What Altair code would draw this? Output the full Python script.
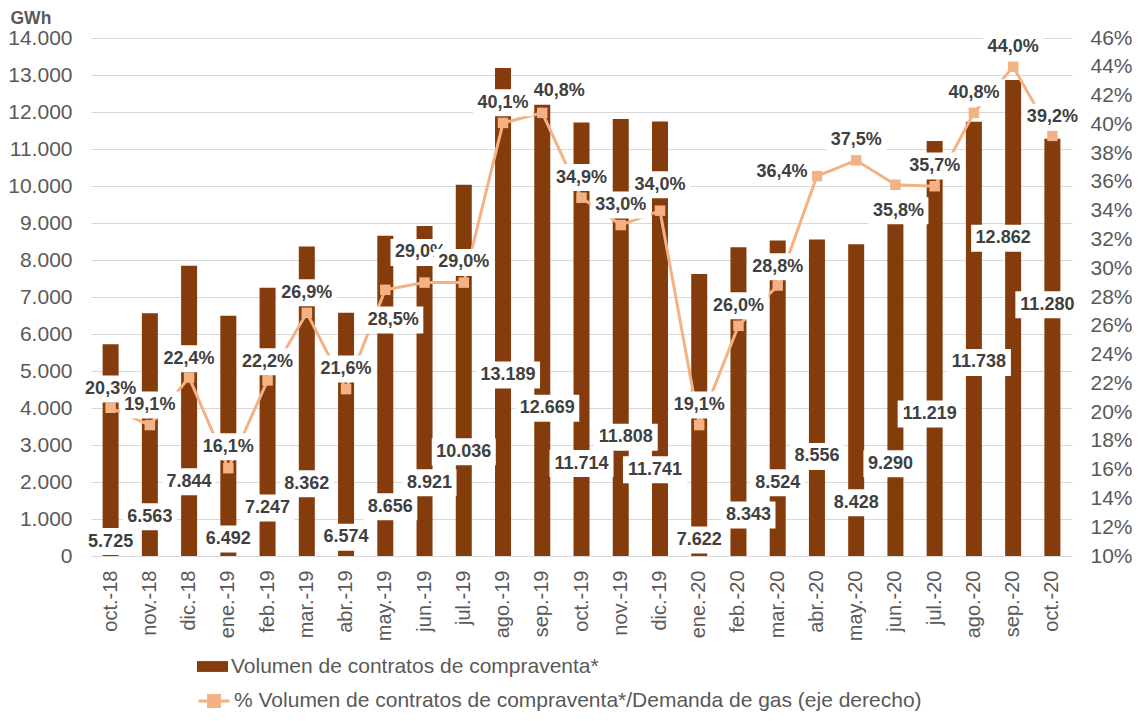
import altair as alt
import pandas as pd

FONT = "Liberation Sans"
BROWN = "#843C0C"
ORANGE = "#F4B183"
GREY = "#595959"
DARK = "#404040"

months = ["oct.-18", "nov.-18", "dic.-18", "ene.-19", "feb.-19", "mar.-19", "abr.-19",
          "may.-19", "jun.-19", "jul.-19", "ago.-19", "sep.-19", "oct.-19", "nov.-19",
          "dic.-19", "ene.-20", "feb.-20", "mar.-20", "abr.-20", "may.-20", "jun.-20",
          "jul.-20", "ago.-20", "sep.-20", "oct.-20"]

volume = [5725, 6563, 7844, 6492, 7247, 8362, 6574, 8656, 8921, 10036, 13189, 12669,
          11714, 11808, 11741, 7622, 8343, 8524, 8556, 8428, 9290, 11219, 11738, 12862, 11280]

pct = [20.3, 19.1, 22.4, 16.1, 22.2, 26.9, 21.6, 28.5, 29.0, 29.0, 40.1, 40.8, 34.9,
       33.0, 34.0, 19.1, 26.0, 28.8, 36.4, 37.5, 35.8, 35.7, 40.8, 44.0, 39.2]

# where each data label sits (in axis units)
vol_label_at = [390, 1060, 2010, 460, 1300, 1950, 510, 1330, 1980, 2820, 4890, 3990,
                2500, 3210, 2330, 430, 1110, 1980, 2690, 1440, 2490, 3840, 5230, 8590, 6790]
vol_label_dx = [0, 0, 0, 0, 0, 0, 0, 5, 5, 0, 5, 5, 0, 5, -5, 0, 10, 0, 0, 0, -5, -5, 5, -10, -5]

pct_label_at = [21.6, 20.5, 23.7, 17.6, 23.5, 28.3, 23.0, 26.4, 31.1, 30.4, 41.5, 42.3,
                36.3, 34.4, 35.8, 20.5, 27.4, 30.1, 36.7, 38.9, 34.0, 37.1, 42.2, 45.4, 40.5]
pct_label_dx = [0, 0, 0, 0, 0, 0, 0, 8, -4, 0, 0, 17, 0, 0, 0, 0, 0, 0, -35, 0, 3, 0, 0, 0, 0]

LEG1 = "Volumen de contratos de compraventa*"
LEG2 = "% Volumen de contratos de compraventa*/Demanda de gas (eje derecho)"

CW = {".": 0.278, ",": 0.278, "%": 0.889}


def box_w(s, fs=18):
    return sum(CW.get(c, 0.556) for c in s) * fs + 9


df = pd.DataFrame({
    "month": months, "volume": volume, "pct": pct,
    "vol_at": vol_label_at, "vol_dx": vol_label_dx,
    "pct_at": pct_label_at, "pct_dx": pct_label_dx,
})
df["s1"] = LEG1
df["s2"] = LEG2
df["vol_text"] = [f"{v:,}".replace(",", ".") for v in volume]
df["pct_text"] = [f"{p:.1f}".replace(".", ",") + "%" for p in pct]
df["vol_w"] = [box_w(s) for s in df["vol_text"]]
df["pct_w"] = [box_w(s) for s in df["pct_text"]]
# half box height (13.5 px) in each axis' units
df["vol_lo"] = df["vol_at"] - 13.5 * 14000 / 518
df["vol_hi"] = df["vol_at"] + 13.5 * 14000 / 518
df["pct_lo"] = df["pct_at"] - 13.5 * 36 / 518
df["pct_hi"] = df["pct_at"] + 13.5 * 36 / 518

base = alt.Chart(df)

x_axis = alt.Axis(labelAngle=-90, labelFont=FONT, labelFontSize=20, labelColor=GREY,
                  ticks=False, domainColor="#d9d9d9", labelPadding=14, title=None)
x_scale = alt.Scale(paddingInner=0, paddingOuter=0)
X = alt.X("month:N", sort=months, title=None, scale=x_scale, axis=x_axis)

vol_scale = alt.Scale(domain=[0, 14000], nice=False)
pct_scale = alt.Scale(domain=[10, 46], nice=False)

vol_axis = alt.Axis(values=list(range(0, 14001, 1000)),
                    labelExpr="replace(format(datum.value, ','), ',', '.')",
                    title="GWh", titleAngle=0, titleX=-81, titleY=-15,
                    titleAlign="left", titleBaseline="alphabetic",
                    titleFont=FONT, titleFontSize=17.5, titleFontWeight="bold",
                    titleColor=GREY, labelFont=FONT, labelFontSize=21,
                    labelColor=GREY, ticks=False, domain=False, labelPadding=19,
                    grid=True, gridColor="#d9d9d9", gridWidth=1)
pct_axis = alt.Axis(orient="right", values=list(range(10, 47, 2)),
                    labelExpr="datum.value + '%'", title=None, labelFont=FONT,
                    labelFontSize=21, labelColor=GREY, ticks=False, domain=False,
                    grid=False, labelPadding=18)


def VY(field):
    return alt.Y(field, scale=vol_scale, axis=vol_axis, title="GWh")


def PY(field):
    return alt.Y(field, scale=pct_scale, axis=pct_axis, title=None)


bars = base.mark_bar(size=16).encode(
    x=X,
    y=VY("volume:Q"),
    fill=alt.Fill("s1:N", scale=alt.Scale(domain=[LEG1], range=[BROWN]),
                  legend=alt.Legend(title=None, orient="none", legendX=106, legendY=613,
                                    symbolType="M-1,-0.35H1V0.35H-1Z", symbolSize=961,
                                    symbolStrokeWidth=0, labelFont=FONT, labelFontSize=21,
                                    labelColor=GREY, labelOffset=3, padding=0,
                                    labelLimit=1000)),
)

vol_layers = []
for d in sorted(set(vol_label_dx)):
    sub = base.transform_filter(alt.datum.vol_dx == d)
    vol_layers.append(sub.mark_bar(color="white", xOffset=d).encode(
        x=X, y=VY("vol_lo:Q"), y2="vol_hi:Q",
        size=alt.Size("vol_w:Q", scale=None)))
    vol_layers.append(sub.mark_text(font=FONT, fontSize=18, fontWeight="bold", color=DARK,
                                    baseline="middle", dx=d).encode(
        x=X, y=VY("vol_at:Q"), text="vol_text:N"))

left = alt.layer(bars, *vol_layers)

line = base.mark_line(strokeWidth=3).encode(
    x=X,
    y=PY("pct:Q"),
    stroke=alt.Stroke("s2:N", scale=alt.Scale(domain=[LEG2], range=[ORANGE]),
                      legend=alt.Legend(title=None, orient="none", legendX=106, legendY=646,
                                        symbolType="M-1,0H1M-0.35,-0.35H0.35V0.35H-0.35Z",
                                        symbolSize=961, symbolStrokeWidth=3,
                                        symbolFillColor=ORANGE, labelFont=FONT,
                                        labelFontSize=21, labelColor=GREY, labelOffset=3,
                                        padding=0, labelLimit=1000)),
)
points = base.mark_point(shape="square", filled=True, size=110, color=ORANGE, opacity=1).encode(
    x=X, y=PY("pct:Q"))

pct_layers = []
for d in sorted(set(pct_label_dx)):
    sub = base.transform_filter(alt.datum.pct_dx == d)
    pct_layers.append(sub.mark_bar(color="white", xOffset=d).encode(
        x=X, y=PY("pct_lo:Q"), y2="pct_hi:Q",
        size=alt.Size("pct_w:Q", scale=None)))
    pct_layers.append(sub.mark_text(font=FONT, fontSize=18, fontWeight="bold", color=DARK,
                                    baseline="middle", dx=d).encode(
        x=X, y=PY("pct_at:Q"), text="pct_text:N"))

right = alt.layer(line, points, *pct_layers)

chart = alt.layer(left, right).resolve_scale(y="independent").properties(
    width=981, height=518,
    background="white",
    autosize=alt.AutoSizeParams(type="none"),
    padding={"left": 83, "top": 30, "right": 60, "bottom": 157},
).configure_view(stroke=None)

chart.save("out.html", embed_options={"renderer": "svg", "actions": False})
